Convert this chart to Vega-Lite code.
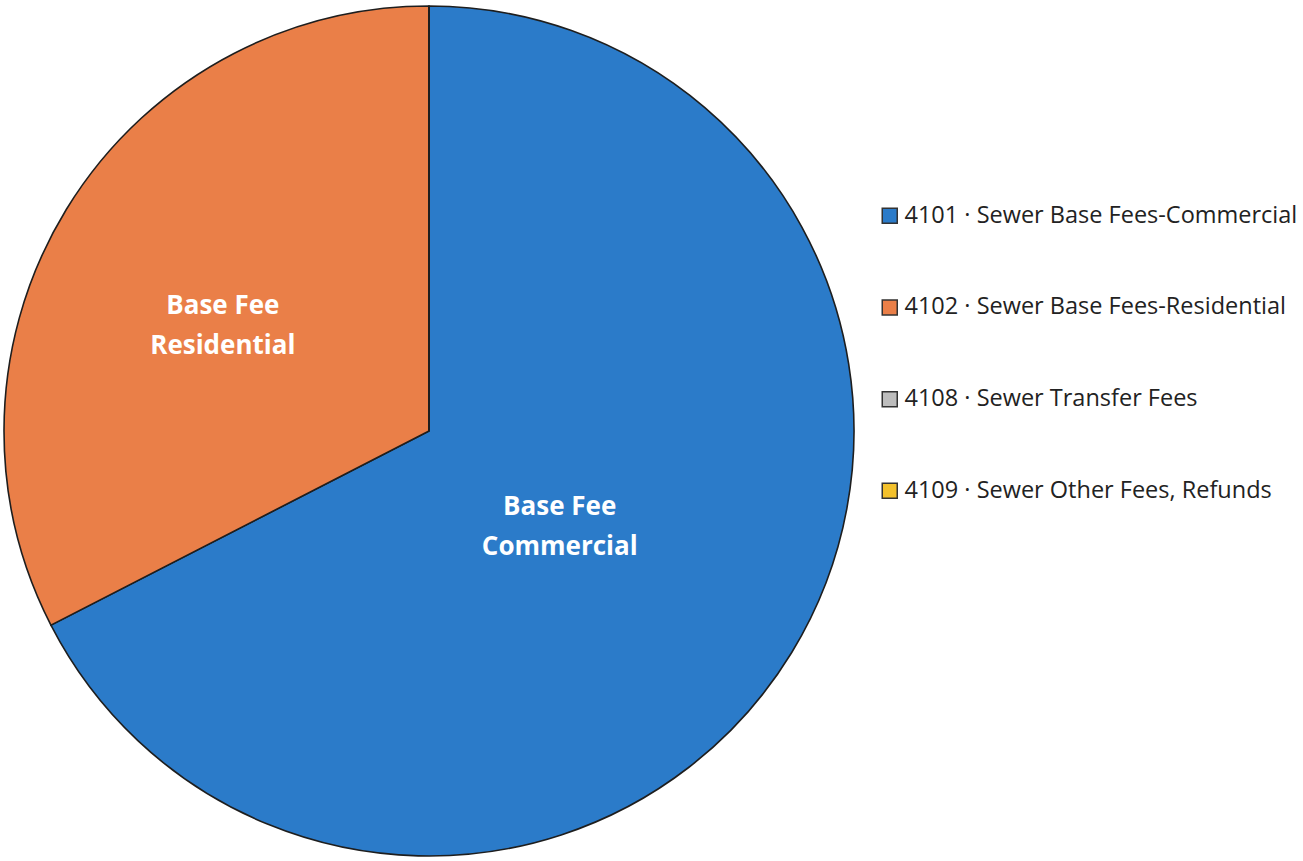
{
  "$schema": "https://vega.github.io/schema/vega-lite/v6.json",
  "width": 850,
  "height": 862,
  "padding": 0,
  "background": "white",
  "view": {"stroke": null},
  "data": {
    "values": [
      {"code": "4101 · Sewer Base Fees-Commercial", "value": 67.45, "label": "Base Fee\nCommercial"},
      {"code": "4102 · Sewer Base Fees-Residential", "value": 32.55, "label": "Base Fee\nResidential"},
      {"code": "4108 · Sewer Transfer Fees", "value": 0, "label": ""},
      {"code": "4109 · Sewer Other Fees, Refunds", "value": 0, "label": ""}
    ]
  },
  "encoding": {
    "theta": {"field": "value", "type": "quantitative", "stack": true},
    "color": {
      "field": "code",
      "type": "nominal",
      "scale": {
        "domain": ["4101 · Sewer Base Fees-Commercial", "4102 · Sewer Base Fees-Residential", "4108 · Sewer Transfer Fees", "4109 · Sewer Other Fees, Refunds"],
        "range": ["#2B7BC9", "#EA7F48", "#BDBDBD", "#F3C12C"]
      },
      "legend": {
        "title": null,
        "orient": "none",
        "legendX": 874,
        "legendY": 204,
        "symbolType": "square",
        "symbolSize": 225,
        "symbolStrokeColor": "#333333",
        "symbolStrokeWidth": 1.5,
        "symbolOpacity": 1,
        "labelFont": "Open Sans",
        "labelFontSize": 23.5,
        "labelColor": "#222222",
        "labelLimit": 500,
        "labelOffset": 3,
        "rowPadding": 66.7
      }
    }
  },
  "layer": [
    {
      "mark": {"type": "arc", "outerRadius": 425, "stroke": "#1e1e1e", "strokeWidth": 1.6, "strokeJoin": "miter"}
    },
    {
      "mark": {"type": "text", "radius": 232, "thetaOffset": -0.072, "dy": -19, "font": "Open Sans", "fontWeight": "bold", "fontSize": 26, "lineBreak": "\n", "lineHeight": 40, "fill": "white", "align": "center", "baseline": "middle"},
      "encoding": {
        "text": {"condition": {"test": "indexof(datum.code, '4102') === 0", "field": "label"}, "value": ""},
        "color": {"value": "white"}
      }
    },
    {
      "mark": {"type": "text", "radius": 161, "thetaOffset": 0.075, "dy": -18, "font": "Open Sans", "fontWeight": "bold", "fontSize": 26, "lineBreak": "\n", "lineHeight": 40, "fill": "white", "align": "center", "baseline": "middle"},
      "encoding": {
        "text": {"condition": {"test": "indexof(datum.code, '4101') === 0", "field": "label"}, "value": ""},
        "color": {"value": "white"}
      }
    }
  ]
}
